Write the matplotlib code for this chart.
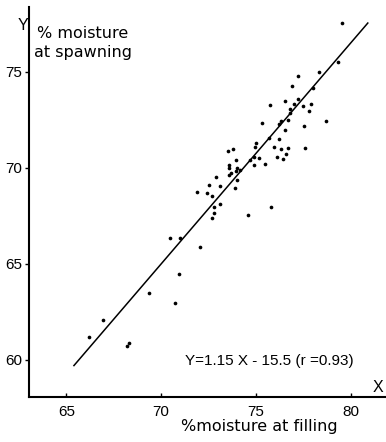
import matplotlib
matplotlib.use("Agg")
import matplotlib.pyplot as plt
import numpy as np

# % moisture at filling (X) and at spawning (Y)
x_fill = [79.53, 79.33, 78.31, 77.24, 76.91, 78.01, 75.72, 76.52, 77.21, 77.00,
          77.46, 77.89, 76.80, 76.80, 77.80, 78.72, 75.31, 76.21, 76.31, 76.70,
          76.54, 77.51, 75.68, 76.19, 74.99, 74.96, 75.96, 76.30, 76.68, 77.61,
          76.56, 76.09, 76.42, 73.50, 73.77, 74.89, 75.15, 74.69, 73.94, 75.47,
          74.89, 73.57, 73.57, 73.98, 73.94, 74.17, 73.69, 73.57, 72.89, 73.98,
          72.52, 73.10, 73.90, 71.90, 72.40, 72.68, 72.78, 73.08, 72.80, 72.69,
          75.77, 74.56, 70.46, 70.97, 72.06, 70.92, 69.37, 70.74, 66.92, 66.21,
          68.28, 68.22]
y_spawn = [77.53, 75.52, 74.97, 74.79, 74.24, 74.15, 73.28, 73.48, 73.58, 73.30,
           73.22, 73.30, 73.04, 72.87, 72.94, 72.42, 72.35, 72.29, 72.43, 72.49,
           71.97, 72.19, 71.57, 71.50, 71.31, 71.07, 71.10, 70.99, 71.01, 71.03,
           70.73, 70.56, 70.44, 70.86, 70.98, 70.56, 70.49, 70.39, 70.39, 70.20,
           70.13, 70.16, 70.01, 70.01, 69.85, 69.90, 69.73, 69.61, 69.52, 69.37,
           69.11, 69.05, 68.96, 68.74, 68.70, 68.53, 67.96, 68.13, 67.65, 67.37,
           67.98, 67.53, 66.36, 66.36, 65.88, 64.45, 63.47, 62.98, 62.08, 61.21,
           60.90, 60.74]

slope = 1.15
intercept = -15.5
r_value = 0.93
line_x = [65.4, 80.9]

x_ticks = [65, 70, 75, 80]
y_ticks = [60, 65, 70, 75]

W, H = 386, 442
fig = plt.figure(figsize=(W / 100, H / 100), dpi=100)
ax = fig.add_axes([29 / W, 1 - 396.7 / H, (W - 29) / W, (396.7 - 7) / H])

font = "Liberation Sans"
font2 = "DejaVu Sans"

ax.scatter(x_fill, y_spawn, s=7, color="black", linewidths=0, zorder=3)
lx = np.array(line_x)
ax.plot(lx, slope * lx + intercept, color="black", lw=1.1)

ax.set_xlim(63.03, 81.86)
ax.set_ylim(58.09, 78.37)
ax.set_xticks(x_ticks)
ax.set_yticks(y_ticks)
ax.set_xticklabels([str(t) for t in x_ticks], fontfamily=font, fontsize=11)
ax.set_yticklabels([str(t) for t in y_ticks], fontfamily=font, fontsize=11)
ax.tick_params(axis="x", direction="in", length=3, width=1, pad=6)
ax.tick_params(axis="y", direction="out", length=3, width=1, pad=2)

for s in ["top", "right"]:
    ax.spines[s].set_visible(False)
for s in ["left", "bottom"]:
    ax.spines[s].set_linewidth(1.5)

fig.text(23 / W, 1 - 25 / H, "Y", fontfamily=font, fontsize=11.5,
         ha="center", va="center")
fig.text(37 / W, 1 - 33 / H, "% moisture", fontfamily=font2, fontsize=11.5,
         ha="left", va="center")
fig.text(34 / W, 1 - 53 / H, "at spawning", fontfamily=font2, fontsize=11.5,
         ha="left", va="center")
fig.text(378 / W, 1 - 387 / H, "X", fontfamily=font, fontsize=11.5,
         ha="center", va="center")
fig.text(181 / W, 1 - 427 / H, "%moisture at filling", fontfamily=font2,
         fontsize=11.5, ha="left", va="center")
fig.text(185 / W, 1 - 361 / H,
         f"Y={slope:.2f} X - {abs(intercept):.1f} (r ={r_value:.2f})",
         fontfamily=font, fontsize=11, ha="left", va="center")

fig.savefig("out.png", dpi=100)
